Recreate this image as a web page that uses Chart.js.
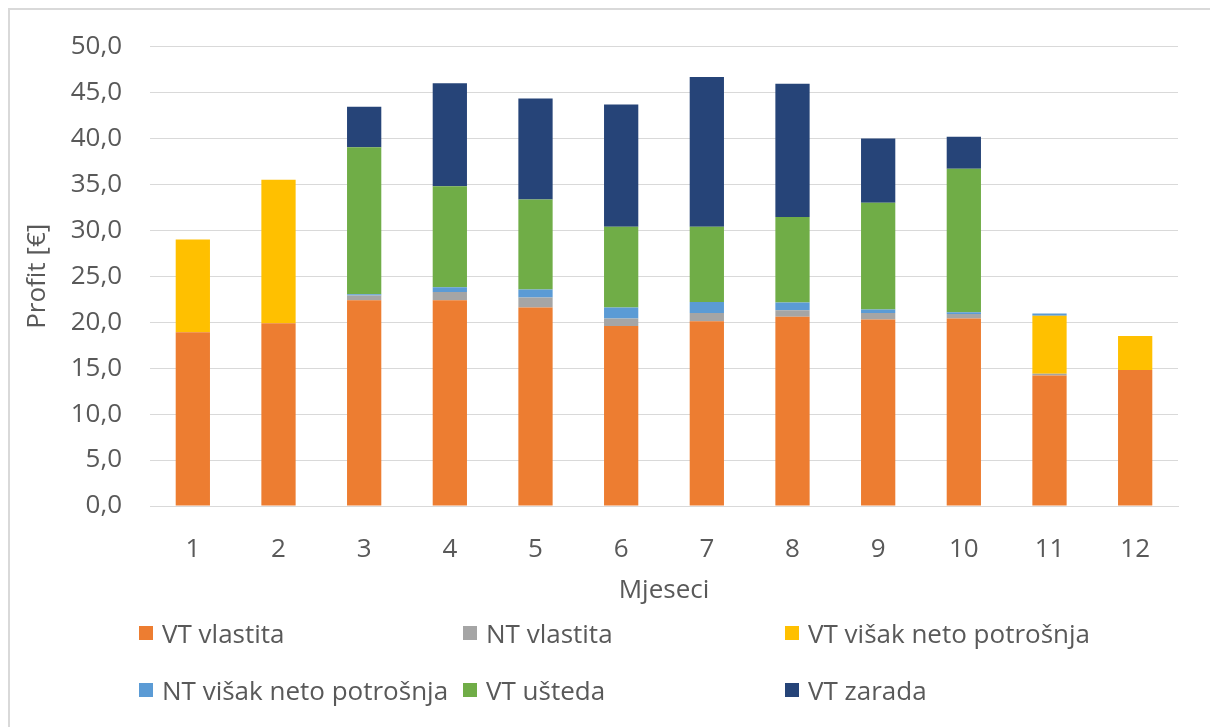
<!DOCTYPE html>
<html>
<head>
<meta charset="utf-8">
<script src="https://cdn.jsdelivr.net/npm/chart.js@4"></script>
<style>
  body { margin: 0; background: #fff; font-family: "Open Sans", sans-serif; }
  #frame {
    position: absolute; left: 8px; top: 8px; width: 1220px; height: 740px;
    border-left: 2px solid #d9d9d9; border-top: 2px solid #d9d9d9;
  }
  #wrap { position: absolute; left: 0; top: -7px; width: 1195px; height: 607px; }
  #legend {
    position: absolute; left: 129px; top: 594px;
    display: grid; grid-template-columns: 324px 322px 330px; grid-auto-rows: 57px;
    color: #595959; font-size: 26px;
  }
  .item { display: flex; align-items: center; white-space: nowrap; }
  .box { width: 14px; height: 14px; margin-right: 9px; flex: none; }
</style>
</head>
<body>
<div id="frame">
  <div id="wrap"><canvas id="myChart"></canvas></div>
  <div id="legend"></div>
</div>
<script>
const months = ["1", "2", "3", "4", "5", "6", "7", "8", "9", "10", "11", "12"];

const vt_vlastita = [18.9, 19.9, 22.4, 22.4, 21.6, 19.6, 20.1, 20.6, 20.3, 20.4, 14.2, 14.8];
const nt_vlastita = [0, 0, 0.5, 0.9, 1.1, 0.8, 0.9, 0.7, 0.7, 0.5, 0.2, 0];
const vt_visak = [10.1, 15.6, 0, 0, 0, 0, 0, 0, 0, 0, 6.3, 3.7];
const nt_visak = [0, 0, 0.15, 0.5, 0.85, 1.2, 1.2, 0.85, 0.4, 0.2, 0.25, 0];
const vt_usteda = [0, 0, 16.0, 11.0, 9.8, 8.8, 8.2, 9.3, 11.6, 15.6, 0, 0];
const vt_zarada = [0, 0, 4.4, 11.2, 11.0, 13.3, 16.3, 14.5, 7.0, 3.5, 0, 0];

const names = ["VT vlastita", "NT vlastita", "VT višak neto potrošnja",
  "NT višak neto potrošnja", "VT ušteda", "VT zarada"];
const colors = ["#ED7D31", "#A5A5A5", "#FFC000", "#5B9BD5", "#70AD47", "#264478"];
const series = [vt_vlastita, nt_vlastita, vt_visak, nt_visak, vt_usteda, vt_zarada];

const txt = "#595959";
const fontFam = "'Open Sans', sans-serif";

const ctx = document.getElementById("myChart");
new Chart(ctx, {
  type: "bar",
  data: {
    labels: months,
    datasets: series.map((vals, i) => ({
      label: names[i],
      data: vals,
      backgroundColor: colors[i],
      borderWidth: 0,
      barPercentage: 0.4,
      categoryPercentage: 1,
    })),
  },
  options: {
    responsive: true,
    maintainAspectRatio: false,
    animation: false,
    layout: { padding: { left: 0, top: 29, right: 27, bottom: 0 } },
    plugins: { legend: { display: false }, tooltip: { enabled: false } },
    scales: {
      x: {
        stacked: true,
        grid: { display: false },
        border: { color: "#d9d9d9" },
        ticks: { color: txt, font: { family: fontFam, size: 26 }, padding: 20 },
        title: {
          display: true, text: "Mjeseci", color: txt,
          font: { family: fontFam, size: 26 }, padding: { top: 0, bottom: 4 },
        },
        afterFit: (s) => { s.height = 104; },
      },
      y: {
        stacked: true,
        min: 0,
        max: 50,
        grid: { color: "#d9d9d9", drawTicks: false },
        border: { display: false },
        ticks: {
          stepSize: 5, color: txt, padding: 28,
          font: { family: fontFam, size: 26 },
          callback: (v) => v.toFixed(1).replace(".", ","),
        },
        title: {
          display: true, text: "Profit [€]", color: txt,
          font: { family: fontFam, size: 26 }, padding: { top: 12, bottom: 0 },
        },
        afterFit: (s) => { s.width = 140; },
      },
    },
  },
});

const order = [0, 1, 2, 3, 4, 5];
const legendMarkup = order.map((i) => `
  <div class="item"><span class="box" style="background:${colors[i]}"></span>${names[i]}</div>
`).join("");
document.getElementById("legend").insertAdjacentHTML("beforeend", legendMarkup);
</script>
</body>
</html>
